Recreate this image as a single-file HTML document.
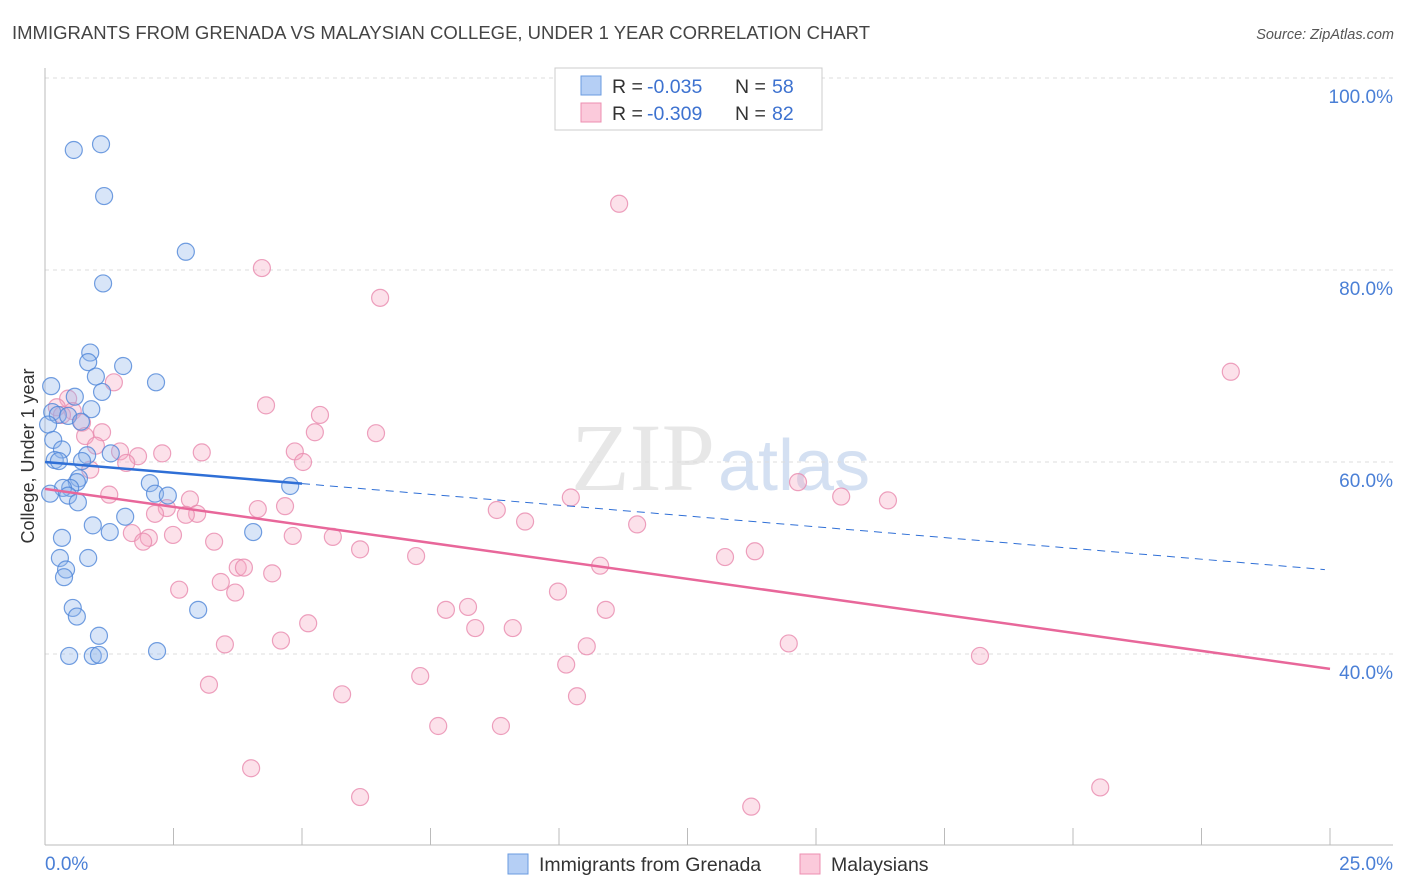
<!DOCTYPE html>
<html><head><meta charset="utf-8"><style>
body{margin:0;background:#fff;font-family:"Liberation Sans",sans-serif}
svg{display:block}
</style></head><body>
<svg id="c" width="1406" height="892">
<text x="12" y="39" font-size="18" fill="#444" textLength="858" lengthAdjust="spacingAndGlyphs">IMMIGRANTS FROM GRENADA VS MALAYSIAN COLLEGE, UNDER 1 YEAR CORRELATION CHART</text>
<text x="1394" y="39" font-size="14.5" fill="#555" text-anchor="end" font-style="italic">Source: ZipAtlas.com</text>
<text x="715" y="490" font-size="96" fill="#d8d8d8" text-anchor="end" font-family="Liberation Serif" opacity="0.6">ZIP</text>
<text x="718" y="490" font-size="72" fill="#b8cdea" opacity="0.6">atlas</text>
<g id="grid"></g><g id="axes"></g><g id="marks"></g>
<text x="34" y="456" font-size="18" fill="#333" text-anchor="middle" transform="rotate(-90 34 456)">College, Under 1 year</text>
<g>
<rect x="555" y="68" width="267" height="62" fill="#fff" stroke="#ccc"/>
<rect x="581" y="76" width="20" height="19" fill="#b5cff5" stroke="#6a9be0"/>
<rect x="581" y="103" width="20" height="19" fill="#fbcadb" stroke="#ec8fb0"/>
<text y="93" font-size="19.5" fill="#333"><tspan x="612">R = </tspan><tspan x="647" fill="#3d72d0">-0.035</tspan><tspan x="735">N = </tspan><tspan x="772" fill="#3d72d0">58</tspan></text>
<text y="120" font-size="19.5" fill="#333"><tspan x="612">R = </tspan><tspan x="647" fill="#3d72d0">-0.309</tspan><tspan x="735">N = </tspan><tspan x="772" fill="#3d72d0">82</tspan></text>
</g>
<g>
<rect x="508" y="854" width="20" height="20" fill="#b5cff5" stroke="#6a9be0"/>
<text x="539" y="871" font-size="19.5" fill="#333">Immigrants from Grenada</text>
<rect x="800" y="854" width="20" height="20" fill="#fbcadb" stroke="#ec8fb0"/>
<text x="831" y="871" font-size="19.5" fill="#333">Malaysians</text>
</g>
</svg>
<script>
const xTicks=[0,25];
const yTicks=[40,60,80,100];
const blueX=[0.56,1.09,1.15,2.74,1.13,0.88,0.84,1.52,0.99,2.16,0.12,1.11,0.58,0.90,0.14,0.25,0.45,0.70,0.06,0.16,0.33,1.28,0.82,0.19,0.27,0.72,0.66,0.62,2.04,4.77,0.49,0.35,2.14,2.39,0.45,0.10,0.64,1.56,0.93,1.26,4.05,0.33,0.84,0.29,0.41,0.37,0.54,0.62,2.98,1.05,2.18,0.47,0.93,1.05];
const blueY=[92.5,93.1,87.7,81.9,78.6,71.4,70.4,70.0,68.9,68.3,67.9,67.3,66.8,65.5,65.2,64.9,64.8,64.2,63.9,62.3,61.3,60.9,60.7,60.2,60.1,60.1,58.3,57.9,57.8,57.5,57.3,57.3,56.7,56.5,56.5,56.7,55.8,54.3,53.4,52.7,52.7,52.1,50.0,50.0,48.8,48.0,44.8,43.9,44.6,41.9,40.3,39.8,39.8,39.9];
const pinkX=[11.17,4.22,6.52,23.07,1.34,4.30,0.45,0.23,0.54,0.33,5.35,0.72,5.25,6.44,0.78,1.11,0.99,1.46,3.05,2.28,4.86,1.81,1.58,5.02,0.88,14.65,1.25,10.23,15.49,16.40,2.82,2.37,4.67,4.14,8.79,2.14,2.96,2.74,9.34,11.52,1.69,2.49,4.82,5.60,2.02,1.91,3.29,6.13,7.22,13.81,13.23,10.80,3.75,3.87,4.42,3.42,9.98,3.70,2.61,8.23,7.80,10.91,5.12,8.37,9.10,3.50,4.59,10.54,14.47,18.19,10.14,7.30,3.19,5.78,10.35,7.65,8.87,4.01,6.13,13.74,20.53];
const pinkY=[86.9,80.2,77.1,69.4,68.3,65.9,66.6,65.7,65.3,64.9,64.9,64.1,63.1,63.0,62.7,63.1,61.7,61.1,61.0,60.9,61.1,60.6,59.9,60.0,59.2,57.9,56.6,56.3,56.4,56.0,56.1,55.2,55.4,55.1,55.0,54.6,54.6,54.5,53.8,53.5,52.6,52.4,52.3,52.2,52.1,51.7,51.7,50.9,50.2,50.7,50.1,49.2,49.0,49.0,48.4,47.5,46.5,46.4,46.7,44.9,44.6,44.6,43.2,42.7,42.7,41.0,41.4,40.8,41.1,39.8,38.9,37.7,36.8,35.8,35.6,32.5,32.5,28.1,25.1,24.1,26.1];
const blueTrend=[60.0,-0.45];
const pinkTrend=[57.2,-0.75];
const sx=v=>45+v/25*1285;
const sy=v=>654-(v-40)*9.6;
const NS='http://www.w3.org/2000/svg';
function mk(tag,attrs,parent){const e=document.createElementNS(NS,tag);for(const k in attrs)e.setAttribute(k,attrs[k]);parent.appendChild(e);return e;}
const grid=document.getElementById('grid'),axes=document.getElementById('axes'),marks=document.getElementById('marks');
yTicks.forEach(t=>{
 const l=mk('line',{x1:45,x2:1393,y1:sy(t),y2:sy(t),stroke:'#ddd','stroke-dasharray':'4,4'},grid);
 
 
 const tx=mk('text',{x:1393,y:sy(t)+25,'font-size':19,fill:'#4a7fd6','text-anchor':'end'},axes);
 tx.textContent=t.toFixed(1)+'%';
 
 
});
const ax=mk('line',{x1:45,x2:45,y1:68,y2:845,stroke:'#bbb'},axes);


const bx=mk('line',{x1:45,x2:1393,y1:845,y2:845,stroke:'#bbb'},axes);


for(let i=0;i<=10;i++){const tk=mk('line',{x1:sx(i*2.5),x2:sx(i*2.5),y1:828,y2:845,stroke:'#bbb'},axes);
 
 }
xTicks.forEach((t,i)=>{const tx=mk('text',{x:i?1393:45,y:870,'font-size':19,fill:'#4a7fd6','text-anchor':i?'end':'start'},axes);
 tx.textContent=t.toFixed(1)+'%';
 
 });
function pts(X,Y,fill,stroke,name){X.forEach((x,i)=>{const c=mk('circle',{cx:sx(x),cy:sy(Y[i]),r:8.5,fill:fill,'fill-opacity':0.35,stroke:stroke,'stroke-width':1.2,'stroke-opacity':0.8},marks);
 
 });}
pts(pinkX,pinkY,'#f7a8c4','#e98aae','malaysians-point');
pts(blueX,blueY,'#8fb5ec','#4f86d8','grenada-point');
const tb=(x)=>blueTrend[0]+blueTrend[1]*x, tp=(x)=>pinkTrend[0]+pinkTrend[1]*x;
const l1=mk('line',{x1:sx(0),y1:sy(tb(0)),x2:sx(5),y2:sy(tb(5)),stroke:'#2f6fd6','stroke-width':2.5},marks);


const l2=mk('line',{x1:sx(5),y1:sy(tb(5)),x2:sx(24.9),y2:sy(tb(24.9)),stroke:'#2f6fd6','stroke-width':1,'stroke-dasharray':'8,6'},marks);


const l3=mk('line',{x1:sx(0),y1:sy(tp(0)),x2:sx(25),y2:sy(tp(25)),stroke:'#e8679a','stroke-width':2.5},marks);


</script>
</body></html>
